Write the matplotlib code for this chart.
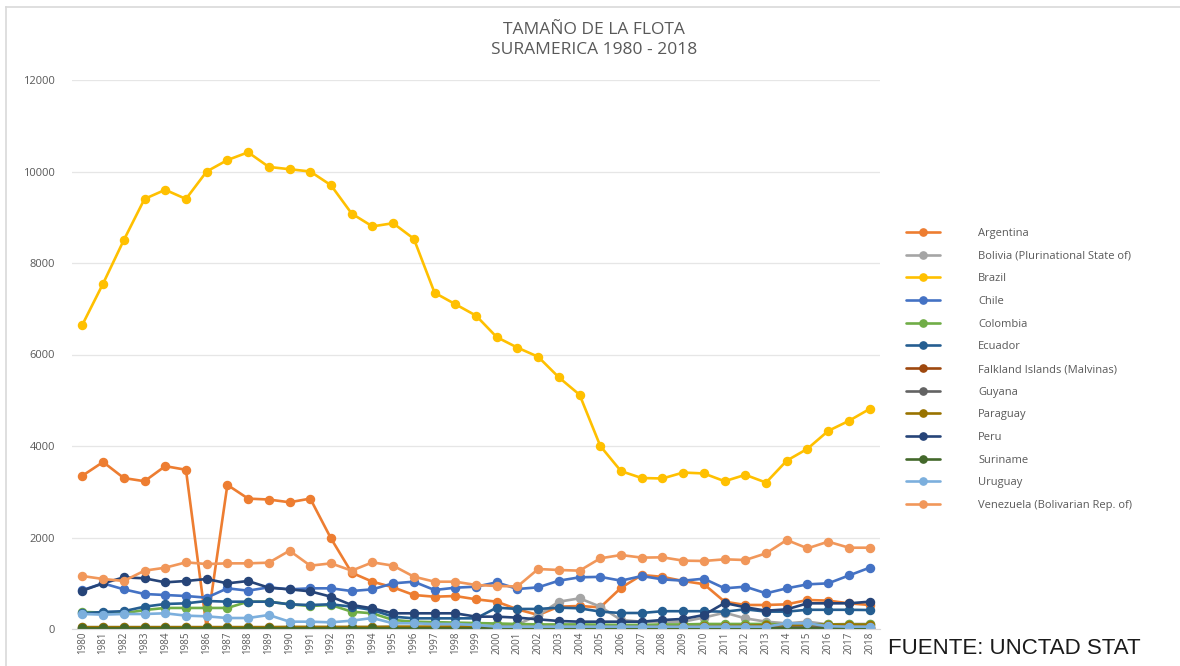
import matplotlib.pyplot as plt
from matplotlib.lines import Line2D

years = list(range(1980, 2019))

argentina = [3350, 3650, 3300, 3230, 3560, 3480, 20, 3150, 2850, 2830,
             2770, 2850, 1980, 1230, 1034, 911, 743, 706, 721, 649,
             597, 430, 306, 488, 503, 474, 900, 1180, 1140, 1049,
             980, 597, 525, 525, 539, 634, 620, 561, 525]
bolivia = [40, 40, 40, 40, 40, 40, 40, 40, 40, 40,
           40, 40, 40, 40, 40, 45, 45, 45, 50, 60,
           80, 100, 300, 597, 670, 488, 197, 160, 160, 160,
           250, 357, 233, 160, 124, 160, 100, 110, 110]
brazil = [6650, 7550, 8500, 9400, 9600, 9400, 10000, 10250, 10420, 10100,
          10050, 10000, 9700, 9080, 8800, 8870, 8530, 7350, 7100, 6850,
          6380, 6150, 5950, 5500, 5120, 4000, 3450, 3300, 3290, 3420,
          3400, 3230, 3370, 3200, 3680, 3940, 4330, 4550, 4810]
chile = [850, 998, 867, 765, 743, 721, 685, 889, 838, 911,
         867, 889, 889, 830, 867, 998, 1034, 852, 903, 925,
         1020, 874, 911, 1056, 1130, 1140, 1056, 1158, 1085, 1056,
         1100, 889, 925, 780, 889, 976, 998, 1170, 1340]
colombia = [372, 360, 343, 415, 460, 460, 460, 460, 597, 597,
            540, 503, 525, 378, 343, 197, 160, 150, 140, 130,
            120, 110, 100, 100, 100, 95, 90, 90, 100, 100,
            110, 110, 110, 110, 100, 100, 100, 100, 100]
ecuador = [343, 372, 389, 488, 547, 561, 612, 597, 597, 597,
           539, 525, 540, 488, 415, 270, 233, 233, 233, 233,
           467, 438, 438, 467, 452, 380, 350, 350, 389, 389,
           389, 378, 430, 380, 380, 420, 420, 420, 415]
falkland = [10, 10, 10, 10, 10, 10, 10, 10, 10, 10,
            15, 15, 15, 15, 15, 20, 20, 20, 20, 20,
            20, 20, 25, 25, 25, 25, 30, 30, 30, 30,
            30, 30, 30, 30, 30, 30, 30, 30, 30]
guyana = [20, 20, 20, 20, 20, 20, 20, 20, 20, 20,
          20, 20, 20, 20, 20, 20, 20, 20, 20, 20,
          20, 20, 20, 20, 20, 20, 20, 25, 25, 25,
          25, 30, 30, 30, 35, 35, 35, 35, 35]
paraguay = [40, 40, 40, 40, 40, 40, 40, 40, 40, 40,
            45, 45, 45, 45, 45, 50, 50, 50, 50, 50,
            50, 50, 50, 50, 50, 50, 50, 55, 55, 60,
            60, 65, 70, 80, 90, 90, 95, 95, 95]
peru = [838, 998, 1129, 1108, 1020, 1049, 1093, 998, 1049, 903,
        867, 823, 706, 525, 452, 343, 343, 343, 343, 270,
        270, 248, 211, 175, 160, 160, 160, 160, 197, 220,
        306, 568, 475, 400, 430, 561, 561, 561, 597]
suriname = [15, 15, 15, 15, 15, 15, 15, 15, 15, 15,
            15, 15, 15, 15, 15, 15, 15, 15, 15, 15,
            15, 15, 15, 15, 15, 15, 15, 15, 15, 15,
            15, 15, 15, 15, 15, 15, 15, 15, 15]
uruguay = [328, 314, 328, 328, 343, 292, 277, 240, 240, 306,
           160, 160, 146, 182, 240, 124, 124, 109, 109, 87,
           51, 51, 51, 51, 51, 51, 51, 51, 51, 51,
           51, 51, 51, 51, 124, 124, 60, 51, 51]
venezuela = [1158, 1093, 1050, 1275, 1340, 1457, 1420, 1435, 1435, 1450,
             1712, 1384, 1435, 1275, 1457, 1384, 1144, 1034, 1034, 962,
             940, 930, 1311, 1290, 1275, 1545, 1617, 1560, 1567, 1494,
             1487, 1523, 1508, 1654, 1945, 1763, 1909, 1777, 1777]

names = ['Argentina', 'Bolivia (Plurinational State of)', 'Brazil', 'Chile',
         'Colombia', 'Ecuador', 'Falkland Islands (Malvinas)', 'Guyana',
         'Paraguay', 'Peru', 'Suriname', 'Uruguay',
         'Venezuela (Bolivarian Rep. of)']
series = [argentina, bolivia, brazil, chile, colombia, ecuador, falkland,
          guyana, paraguay, peru, suriname, uruguay, venezuela]
colors = ['#ED7D31', '#A5A5A5', '#FFC000', '#4472C4', '#70AD47', '#255E91',
          '#9E480E', '#636363', '#997300', '#264478', '#43682B', '#7CAFDD',
          '#F1975A']

plt.rcParams['font.family'] = ['Open Sans', 'DejaVu Sans']
grey = '#595959'

fig = plt.figure(figsize=(11.8, 6.66), dpi=100)
ax = fig.add_axes([72 / 1180, 1 - 629 / 666, 808 / 1180, 549 / 666])

for vals, name, c in zip(series, names, colors):
    ax.plot(years, vals, color=c, lw=1.9, marker='o', ms=5.8, label=name,
            solid_capstyle='round')

ax.set_xlim(1979.5, 2018.5)
ax.set_ylim(0, 12000)
ax.set_yticks(range(0, 12001, 2000))
ax.set_xticks(years)
ax.set_xticklabels([str(y) for y in years], rotation=90, fontsize=7, color=grey)
ax.tick_params(axis='y', labelsize=8, colors=grey, length=0, pad=12)
ax.tick_params(axis='x', length=0, pad=2)
ax.grid(axis='y', color='#E6E6E6', lw=0.9)
ax.set_axisbelow(True)
for s in ['top', 'right', 'left']:
    ax.spines[s].set_visible(False)
ax.spines['bottom'].set_color('#D9D9D9')

fig.text(594 / 1180, 1 - 30 / 666, 'TAMAÑO DE LA FLOTA', ha='center', va='center',
         fontsize=12.5, color=grey)
fig.text(594 / 1180, 1 - 50 / 666, 'SURAMERICA 1980 - 2018', ha='center', va='center',
         fontsize=12.5, color=grey)

leg = fig.legend(loc='upper left', bbox_to_anchor=(896 / 1180, 1 - 218 / 666),
                 frameon=False, fontsize=8, handlelength=3.1,
                 handletextpad=3.4, labelspacing=1.05, markerscale=0.9)
for t in leg.get_texts():
    t.set_color(grey)

fig.text(888 / 1180, 1 - 649 / 666, 'FUENTE: UNCTAD STAT', ha='left', va='center',
         fontsize=16, color='#1a1a1a', family=['Liberation Sans', 'DejaVu Sans'])

fig.add_artist(Line2D([6 / 1180, 6 / 1180], [0, 1 - 7 / 666], color='#D9D9D9', lw=1.2))
fig.add_artist(Line2D([6 / 1180, 1], [1 - 7 / 666, 1 - 7 / 666], color='#D9D9D9', lw=1.2))

fig.savefig('out.png', dpi=100, facecolor='white')
